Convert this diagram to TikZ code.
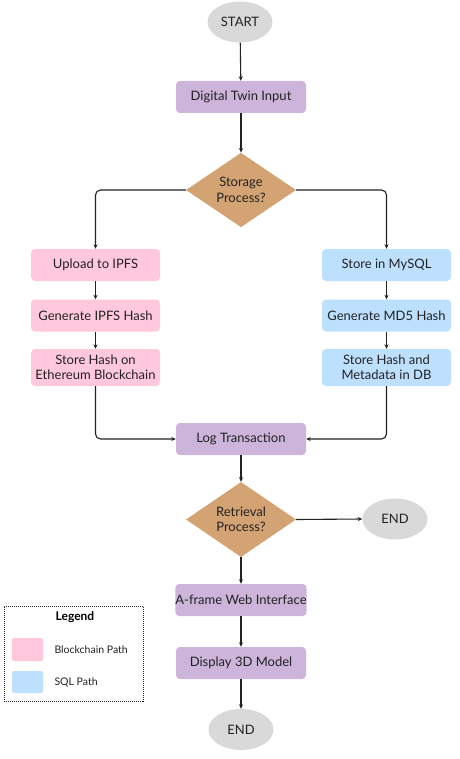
\documentclass[tikz,border=0pt]{standalone}
\usepackage{fontspec}
\setmainfont{Lato}
\usetikzlibrary{shapes.geometric,arrows.meta}
\definecolor{procpurple}{RGB}{205,180,219}
\definecolor{chainpink}{RGB}{255,200,221}
\definecolor{sqlblue}{RGB}{189,224,254}
\definecolor{decisiontan}{RGB}{212,163,115}
\definecolor{termgray}{RGB}{217,217,217}
\definecolor{inkgray}{RGB}{34,34,34}
\begin{document}
\begin{tikzpicture}[x=1pt, y=-1pt, font=\fontsize{13}{15.5}\selectfont, text=inkgray,
	terminal/.style={ellipse, fill=termgray, minimum width=65pt, minimum height=41pt, inner sep=0pt},
	process/.style={rectangle, rounded corners=4pt, fill=procpurple, minimum width=130pt, minimum height=32pt, inner sep=0pt, align=center},
	chainbox/.style={process, fill=chainpink, minimum width=129pt},
	sqlbox/.style={process, fill=sqlblue, minimum width=129pt},
	decision/.style={diamond, fill=decisiontan, minimum width=110pt, minimum height=68pt, inner sep=0pt, align=center},
	flow/.style={-{Stealth[length=4.5pt, width=4pt]}, line width=1.1pt, draw=inkgray, rounded corners=5pt}]
	\useasboundingbox (0,0) rectangle (459,759);
	% main column
	\node[terminal](start) at (240,22){START};
	\node[process](input) at (241,97){Digital Twin Input};
	\node[decision](storage) at (241,190){Storage\\Process?};
	% blockchain path
	\node[chainbox](upload) at (95.5,265){Upload to IPFS};
	\node[chainbox](ipfshash) at (95.5,315.5){Generate IPFS Hash};
	\node[chainbox, minimum height=37pt](chainstore) at (95.5,367.5){Store Hash on\\Ethereum Blockchain};
	% sql path
	\node[sqlbox](mysql) at (386.5,265){Store in MySQL};
	\node[sqlbox](md5hash) at (386.5,315.5){Generate MD5 Hash};
	\node[sqlbox, minimum height=37pt](dbstore) at (386.5,367.5){Store Hash and\\Metadata in DB};
	\node[process](logtx) at (241,439){Log Transaction};
	\node[decision](retrieval) at (241,519.5){Retrieval\\Process?};
	\node[terminal](endright) at (395,519){END};
	\node[process](aframe) at (241,600){A-frame Web Interface};
	\node[process](display) at (241,663){Display 3D Model};
	\node[terminal](endbottom) at (241,729.5){END};
	% legend
	\node[draw=inkgray, densely dotted, line width=1pt, minimum width=139pt, minimum height=95pt, inner sep=0pt](legend) at (73.5,653.5){};
	\node[font=\fontsize{12}{14}\selectfont\bfseries, text=black](legendtitle) at (75,617){Legend};
	\node[fill=chainpink, rounded corners=2pt, minimum width=31pt, minimum height=23pt, inner sep=0pt](chainswatch) at (27.5,649.5){};
	\node[anchor=west, font=\fontsize{10.5}{12}\selectfont](chainlabel) at (51,650){Blockchain Path};
	\node[fill=sqlblue, rounded corners=2pt, minimum width=31pt, minimum height=22pt, inner sep=0pt](sqlswatch) at (27.5,682){};
	\node[anchor=west, font=\fontsize{10.5}{12}\selectfont](sqllabel) at (51,682){SQL Path};
	% connectors
	\draw[flow] (start) -- (input);
	\draw[flow] (input) -- (storage);
	\draw[flow] (storage.west) -| (upload.north);
	\draw[flow] (storage.east) -| (mysql.north);
	\draw[flow] (upload) -- (ipfshash);
	\draw[flow] (ipfshash) -- (chainstore);
	\draw[flow] (mysql) -- (md5hash);
	\draw[flow] (md5hash) -- (dbstore);
	\draw[flow] (chainstore.south) |- (logtx.west);
	\draw[flow] (dbstore.south) |- (logtx.east);
	\draw[flow] (logtx) -- (retrieval);
	\draw[flow] (retrieval.east) -- (endright.west);
	\draw[flow] (retrieval) -- (aframe);
	\draw[flow] (aframe) -- (display);
	\draw[flow] (display) -- (endbottom);
\end{tikzpicture}
\end{document}
